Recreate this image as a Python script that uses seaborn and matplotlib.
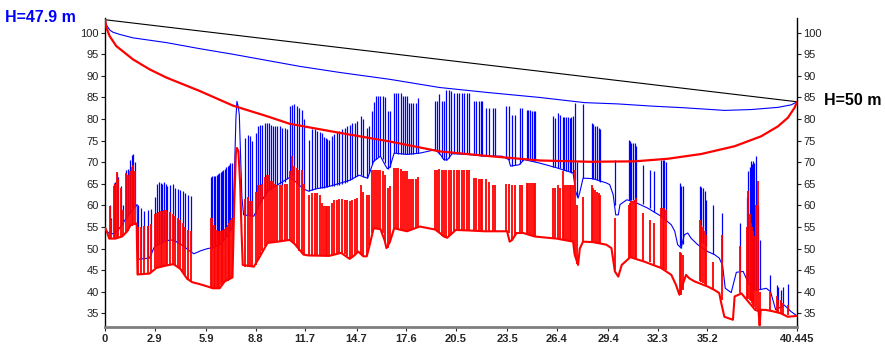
import numpy as np
import pandas as pd
import matplotlib
matplotlib.use("Agg")
import matplotlib.pyplot as plt
import seaborn as sns

# ---------------- data (km, m) ----------------
los_x = [0.0, 40.445]
los_y = [103.0, 84.0]

blue_curve_x = [0.0, 0.08, 0.28, 0.47, 0.86, 1.64, 3.59, 5.53, 7.48, 9.43, 11.38, 13.7, 16.64,
                19.56, 22.48, 25.4, 28.03, 29.98, 31.93, 33.88, 36.22, 37.78, 39.33, 40.12, 40.445]
blue_curve_y = [103.0, 101.8, 100.6, 100.1, 99.6, 98.8, 97.7, 96.3, 95.0, 93.6, 92.2, 90.8, 89.2,
                87.3, 86.1, 85.0, 83.8, 83.5, 83.0, 82.6, 82.0, 82.2, 82.7, 83.3, 84.0]

red_arc_x = [0.0, 0.08, 0.27, 0.66, 1.64, 2.61, 3.59, 5.53, 7.48, 9.43, 10.79, 13.71, 16.64,
             19.56, 22.48, 25.41, 28.33, 30.95, 32.9, 34.85, 36.8, 38.35, 39.33, 39.91, 40.3, 40.445]
red_arc_y = [103.0, 101.2, 99.2, 96.9, 93.8, 91.5, 89.6, 86.5, 83.1, 80.7, 78.9, 76.8, 74.8,
             72.5, 71.4, 70.4, 70.1, 70.2, 70.8, 71.9, 73.7, 76.0, 78.3, 80.3, 82.6, 84.0]

blue_base_x = [0, 0.1, 0.3, 0.6, 0.9, 1.2, 1.5, 1.88, 1.92, 2.6, 2.9, 3.5, 4.0, 4.5, 5.0, 5.2, 5.6,
               6.0, 6.3, 6.8, 7.2, 7.45, 7.55, 7.65, 7.71, 7.78, 7.85, 7.92, 8.0, 8.1, 8.7, 9.0,
               9.5, 10.1, 10.8, 11.0, 11.6, 11.9, 12.3, 13.1, 14.3, 14.85, 15.2, 15.35, 15.7,
               16.1, 16.35, 16.5, 16.65, 16.9, 17.65, 18.4, 19.3, 19.6, 19.8, 20.0, 20.3, 21.2,
               22.2, 23.2, 23.6, 23.7, 24.2, 24.5, 25.4, 26.4, 27.36, 27.5, 27.65, 27.75, 27.94,
               28.5, 29.3, 29.5, 29.7, 29.85, 30.0, 30.1, 30.5, 31.1, 31.7, 32.5, 33.1, 33.3,
               33.47, 33.67, 33.86, 34.06, 34.25, 34.64, 35.23, 35.62, 35.9, 36.1, 36.25, 36.6,
               36.9, 37.3, 37.6, 38.0, 38.3, 38.65, 38.9, 39.2, 39.7, 40.1, 40.445]
blue_base_y = [55.1, 54.0, 53.4, 53.5, 55.0, 56.8, 58.5, 60.2, 47.5, 47.8, 50.5, 51.8, 52.0, 50.8,
               49.3, 48.8, 49.5, 50.0, 50.2, 51.2, 53.2, 55.0, 65.0, 80.0, 84.1, 83.0, 81.0, 72.0,
               62.0, 57.8, 57.5, 60.0, 63.3, 64.8, 66.5, 66.0, 63.8, 63.3, 63.8, 64.4, 65.8, 67.0,
               66.5, 66.3, 70.2, 71.4, 69.5, 68.5, 68.8, 72.1, 71.8, 72.1, 72.9, 71.8, 70.6, 70.5,
               72.0, 71.8, 71.4, 71.4, 70.6, 69.1, 69.4, 70.6, 69.8, 68.7, 67.5, 63.3, 61.7, 63.0,
               66.3, 66.2, 65.2, 64.8, 62.5, 57.8, 57.8, 60.2, 61.3, 60.5, 59.4, 57.5, 55.5, 54.0,
               50.9, 50.1, 53.2, 53.6, 52.4, 50.9, 49.3, 48.6, 47.8, 46.0, 40.8, 39.8, 44.5, 44.7,
               42.0, 40.4, 40.5, 40.8, 40.0, 35.8, 36.9, 35.4, 34.4]

red_base_x = [0, 0.1, 0.25, 0.6, 1.0, 1.3, 1.5, 1.85, 1.9, 2.6, 3.0, 3.5, 4.0, 4.4, 4.8, 5.1, 5.5,
              6.0, 6.3, 6.7, 7.0, 7.45, 7.55, 7.65, 7.71, 7.8, 7.9, 7.98, 8.05, 8.7, 9.0, 9.5,
              10.1, 10.8, 11.1, 11.6, 11.9, 13.1, 13.8, 14.3, 14.6, 14.8, 15.1, 15.3, 15.45,
              15.7, 16.1, 16.35, 16.45, 16.65, 16.9, 17.65, 18.4, 19.3, 19.6, 19.8, 20.0, 20.5,
              21.2, 22.2, 23.5, 23.65, 23.8, 24.05, 24.45, 25.1, 25.6, 26.4, 27.36, 27.45, 27.65,
              27.75, 27.94, 28.5, 29.3, 29.6, 29.8, 30.0, 30.2, 30.7, 31.5, 32.5, 33.1, 33.37,
              33.57, 33.76, 33.96, 34.15, 34.45, 35.23, 35.62, 35.9, 36.0, 36.2, 36.7, 36.8,
              37.2, 37.6, 38.0, 38.2, 38.26, 38.32, 38.6, 39.0, 39.5, 39.9, 40.445]
red_base_y = [54.8, 54.0, 52.3, 52.3, 52.8, 54.0, 55.5, 55.8, 44.0, 44.2, 45.5, 46.0, 46.4, 45.3,
              43.0, 42.2, 41.8, 41.2, 40.8, 40.8, 42.4, 43.3, 60.0, 72.0, 73.3, 72.5, 64.8, 54.0,
              46.2, 45.8, 47.8, 51.3, 51.6, 52.0, 51.0, 48.6, 48.4, 48.3, 49.0, 47.6, 48.5, 49.3,
              48.2, 48.2, 50.5, 54.7, 54.5, 51.8, 50.1, 51.5, 54.7, 54.0, 55.1, 54.4, 53.5, 52.8,
              52.5, 54.3, 54.2, 54.0, 54.0, 51.6, 52.0, 53.6, 53.6, 52.8, 52.6, 52.3, 51.6, 48.6,
              46.2, 50.0, 51.6, 51.5, 50.9, 50.1, 44.7, 43.5, 46.2, 48.0, 47.0, 45.5, 43.9, 41.6,
              39.3, 41.6, 43.9, 43.1, 42.4, 41.2, 40.4, 39.7, 37.7, 34.2, 33.5, 38.9, 39.6, 37.7,
              35.8, 35.5, 32.2, 35.8, 35.8, 35.5, 35.0, 34.2, 34.4]

# obstacle spikes: position, blue top/bottom, red top/bottom
spike_x = [0.27, 0.35, 0.50, 0.58, 0.70, 0.78, 0.95, 1.05, 1.20, 1.32, 1.45, 1.55, 1.65, 1.75,
           1.95, 2.10, 2.30, 2.50, 2.70, 2.95, 3.05, 3.15, 3.25, 3.35, 3.45, 3.55, 3.65, 3.80,
           3.95, 4.10, 4.25, 4.40, 4.55, 4.70, 4.85, 5.00,
           6.20, 6.28, 6.36, 6.44, 6.52, 6.60, 6.68, 6.76, 6.84, 6.92, 7.00, 7.08, 7.16, 7.24,
           7.32, 7.40,
           8.20, 8.35, 8.50, 8.62, 8.80, 8.95, 9.07, 9.20, 9.33, 9.45, 9.57, 9.70, 9.83, 9.95,
           10.08, 10.20, 10.35, 10.50, 10.65, 10.80, 10.92, 11.05, 11.20, 11.35, 11.50, 11.65,
           11.93, 12.10, 12.25, 12.40, 12.55, 12.70, 12.80, 12.90, 13.00, 13.10, 13.25, 13.40,
           13.55, 13.70, 13.85, 14.00, 14.15, 14.30, 14.45, 14.60, 14.75, 14.95, 15.10,
           15.30, 15.45, 15.60, 15.72, 15.85, 15.98, 16.10, 16.22, 16.35, 16.55, 16.65, 16.90,
           17.02, 17.15, 17.28, 17.40, 17.52, 17.65, 17.78, 17.90, 18.02, 18.15, 18.30,
           19.30, 19.42, 19.55, 19.68, 19.80, 19.95, 20.10, 20.25, 20.40,
           20.55, 20.70, 20.85, 21.00, 21.15, 21.30, 21.55, 21.70, 21.85, 21.95, 22.05, 22.25,
           22.45, 22.65, 22.80, 23.45, 23.60, 23.80, 23.95, 24.25, 24.40, 24.65, 24.75, 24.85,
           24.95, 25.05, 25.15,
           26.19, 26.29, 26.48, 26.58, 26.77, 26.85, 26.95, 27.05, 27.15, 27.25, 27.35, 27.46,
           27.60, 27.94, 28.45, 28.55, 28.65, 28.75, 28.85, 28.95, 29.80, 30.60, 30.68, 30.76,
           30.85, 30.95, 31.05, 31.44, 31.83, 32.10, 32.50, 32.60, 32.70, 32.80, 33.58, 33.68,
           33.78, 34.75, 34.85, 34.95, 35.05, 35.14, 35.53,
           36.05, 37.09, 37.55, 37.60, 37.67, 37.74, 37.80, 37.87, 37.95, 38.06, 38.18, 38.26,
           38.84, 39.25, 39.35, 39.50, 39.62, 39.90]
blue_top = [60.2, 57.0, 65.2, 65.5, 67.5, 66.5, 64.6, 60.0, 68.3, 68.4, 70.6, 71.7, 72.0, 70.0,
            60.0, 59.5, 58.8, 59.0, 59.2, 62.0, 65.0, 65.4, 65.2, 65.0, 65.3, 65.0, 64.5, 64.8,
            65.0, 64.0, 63.8, 63.5, 63.3, 62.8, 62.5, 62.2,
            66.5, 66.7, 66.8, 66.9, 67.0, 67.2, 67.5, 67.8, 68.0, 68.2, 68.5, 68.8, 69.1, 69.4,
            69.8, 69.8,
            75.6, 76.4, 76.0, 74.9, 76.8, 78.5, 78.7, 78.7, 79.0, 79.1, 79.1, 78.7, 78.5, 78.3,
            78.3, 78.3, 78.0, 78.0, 77.8, 83.0, 83.3, 83.4, 83.0, 82.5, 82.2, 80.0,
            75.2, 77.6, 77.6, 77.3, 77.0, 76.8, 75.8, 75.5, 75.4, 75.2, 76.0, 76.5,
            77.0, 77.2, 77.6, 78.0, 78.3, 78.6, 79.1, 79.1, 79.5, 80.7, 80.0,
            78.0, 78.5, 81.8, 84.0, 85.3, 85.3, 85.3, 85.3, 85.0, 81.8, 81.8, 86.1,
            86.1, 86.1, 86.1, 85.3, 85.3, 85.3, 83.7, 83.7, 83.7, 83.7, 84.9,
            84.1, 84.1, 85.8, 84.1, 84.1, 86.8, 86.8, 86.5, 86.1,
            86.1, 86.1, 86.1, 86.1, 86.1, 86.1, 84.1, 84.1, 84.1, 84.1, 84.1, 82.6,
            82.6, 82.6, 82.6, 83.0, 83.0, 81.0, 81.0, 82.6, 82.6, 82.2, 82.2, 82.0,
            81.8, 81.8, 81.8,
            80.7, 80.3, 81.4, 81.0, 80.5, 80.5, 80.5, 80.5, 80.3, 80.5, 80.7, 83.7,
            70.0, 83.4, 79.1, 78.8, 78.5, 78.3, 78.0, 77.6, 70.6, 75.2, 75.0, 74.5,
            74.4, 74.4, 73.7, 69.4, 68.3, 67.9, 70.6, 70.6, 70.4, 70.0, 65.2, 64.4,
            64.4, 64.4, 64.2, 64.0, 63.3, 61.3, 60.2,
            58.2, 55.9, 62.0, 67.9, 69.0, 70.2, 69.5, 70.2, 69.8, 71.4, 60.0, 52.0,
            43.9, 41.6, 41.0, 40.5, 41.2, 41.9]
blue_bot = [53.5, 53.3, 53.4, 53.4, 53.8, 54.2, 55.2, 55.8, 56.8, 57.5, 58.3, 58.8, 59.3, 59.8,
            47.5, 47.5, 47.6, 47.8, 48.5, 50.5, 50.8, 51.0, 51.2, 51.4, 51.6, 51.8, 52.0, 52.0,
            51.8, 51.5, 51.2, 51.0, 50.6, 50.2, 49.8, 49.3,
            50.2, 50.2, 50.3, 50.4, 50.5, 50.7, 50.9, 51.2, 51.6, 52.0, 52.4, 52.8, 53.2, 53.6,
            54.0, 54.5,
            57.8, 57.7, 57.6, 57.5, 58.0, 59.5, 60.5, 61.5, 62.3, 63.0, 63.5, 63.8, 64.2, 64.5,
            64.8, 65.0, 64.8, 65.5, 66.0, 66.5, 66.8, 66.0, 65.5, 65.0, 64.5, 63.5,
            63.3, 63.6, 63.8, 64.0, 64.0, 64.0, 64.1, 64.2, 64.3, 64.4, 64.5, 64.6,
            64.7, 64.8, 65.0, 65.2, 65.5, 65.8, 66.2, 66.5, 66.8, 67.0, 66.5,
            66.3, 67.5, 69.5, 70.2, 70.8, 71.2, 71.4, 70.8, 69.8, 68.5, 69.0, 72.1,
            72.1, 72.0, 72.0, 71.9, 71.8, 71.8, 71.9, 72.0, 72.0, 72.1, 72.1,
            72.9, 72.6, 72.0, 71.0, 70.6, 70.5, 71.0, 71.8, 72.0,
            72.0, 72.0, 71.9, 71.9, 71.8, 71.8, 71.7, 71.6, 71.6, 71.5, 71.5, 71.4,
            71.4, 71.4, 71.4, 71.0, 70.6, 69.2, 69.3, 69.6, 70.3, 70.5, 70.5, 70.4,
            70.4, 70.3, 70.3,
            68.9, 68.8, 68.7, 68.6, 68.3, 68.2, 68.0, 67.9, 67.8, 67.6, 67.5, 66.0,
            62.0, 66.3, 66.2, 66.1, 66.0, 65.8, 65.6, 65.4, 60.0, 61.3, 61.3, 61.3,
            61.2, 61.1, 61.0, 60.3, 59.4, 58.5, 57.5, 57.2, 57.0, 56.5, 50.5, 50.1,
            51.0, 51.6, 51.4, 51.2, 51.0, 50.5, 48.8,
            47.0, 44.7, 43.0, 42.5, 42.3, 42.0, 41.5, 41.0, 40.6, 40.5, 40.6, 40.7,
            40.0, 36.5, 36.5, 36.7, 36.9, 35.6]
red_top = [59.8, 56.5, 64.5, 65.0, 67.7, 66.0, 64.0, 59.0, 67.5, 67.0, 68.0, 69.0, 69.3, 68.0,
           55.0, 55.0, 55.2, 55.3, 55.6, 58.0, 58.2, 58.4, 58.6, 58.8, 59.0, 59.0, 58.8, 58.5,
           58.0, 57.5, 57.0, 56.6, 56.0, 55.0, 54.4, 54.0,
           57.1, 57.0, 55.5, 54.5, 54.2, 54.0, 54.0, 54.0, 54.1, 54.2, 54.5, 55.0, 55.5, 56.0,
           56.5, 57.1,
           61.5, 62.0, 61.0, 60.9, 63.0, 64.8, 64.8, 65.0, 66.5, 67.1, 67.0, 65.6, 65.6, 65.0,
           64.8, 64.8, 64.8, 65.0, 65.0, 67.9, 71.4, 69.1, 68.7, 68.3, 68.3, 65.0,
           62.5, 62.8, 62.9, 62.9, 62.5, 60.5, 59.8, 59.8, 59.8, 59.8, 60.5, 61.3,
           61.3, 61.5, 61.5, 61.3, 61.3, 61.0, 61.3, 61.5, 61.8, 64.8, 63.0,
           62.5, 62.5, 68.3, 68.3, 68.3, 68.3, 68.3, 68.0, 67.0, 64.0, 64.5, 68.7,
           68.7, 68.7, 68.5, 68.0, 68.0, 67.9, 66.0, 66.0, 66.0, 66.0, 66.5,
           68.3, 68.3, 68.5, 68.3, 68.3, 68.3, 68.3, 68.3, 68.3,
           68.3, 68.3, 68.3, 68.3, 68.3, 68.3, 66.3, 66.3, 66.2, 66.2, 66.0, 66.0,
           65.5, 64.8, 64.8, 65.0, 65.0, 64.8, 64.8, 64.8, 64.8, 65.2, 65.2, 65.2,
           65.2, 65.2, 65.2,
           64.0, 64.0, 64.8, 64.0, 67.9, 64.8, 64.8, 64.8, 64.8, 64.8, 64.8, 68.3,
           60.0, 62.0, 64.8, 64.0, 63.5, 63.0, 62.8, 62.5, 57.1, 60.2, 60.5, 61.0,
           61.0, 61.3, 61.7, 58.2, 56.7, 55.9, 59.4, 59.4, 59.4, 59.0, 49.3, 49.0,
           48.5, 56.7, 55.5, 55.0, 54.0, 53.2, 47.0,
           53.2, 50.5, 55.0, 63.3, 58.0, 56.0, 55.0, 54.0, 53.0, 60.0, 65.6, 40.0,
           40.0, 39.0, 38.0, 38.0, 37.5, 37.0]
red_bot = [52.3, 52.2, 52.2, 52.3, 52.5, 52.5, 52.6, 52.8, 53.5, 54.0, 55.0, 55.3, 55.5, 55.5,
           43.8, 43.8, 44.0, 44.2, 44.5, 45.5, 45.6, 45.7, 45.8, 45.9, 46.0, 46.1, 46.2, 46.3,
           46.4, 46.2, 45.8, 45.3, 44.6, 43.8, 43.0, 42.4,
           41.0, 40.8, 40.7, 40.6, 40.7, 40.9, 41.2, 41.6, 42.0, 42.3, 42.4, 42.5, 42.6, 42.8,
           43.0, 43.3,
           45.8, 45.8, 45.8, 45.8, 46.2, 47.3, 48.5, 49.5, 50.5, 51.2, 51.4, 51.5, 51.5, 51.5,
           51.5, 51.6, 51.6, 51.7, 51.8, 52.0, 51.8, 51.0, 50.3, 49.5, 49.0, 48.6,
           48.4, 48.4, 48.3, 48.3, 48.2, 48.2, 48.2, 48.2, 48.2, 48.3, 48.5, 48.7,
           48.9, 49.0, 49.0, 48.8, 48.3, 47.6, 47.8, 48.5, 49.3, 48.8, 48.2,
           48.5, 50.5, 53.5, 54.7, 54.6, 54.5, 54.5, 53.5, 51.8, 50.2, 51.5, 54.7,
           54.6, 54.5, 54.3, 54.2, 54.1, 54.0, 54.2, 54.4, 54.6, 54.8, 55.0,
           54.4, 54.0, 53.5, 53.0, 52.8, 52.6, 53.0, 53.2, 54.0,
           54.4, 54.4, 54.3, 54.3, 54.2, 54.2, 54.2, 54.1, 54.1, 54.1, 54.1, 54.0,
           54.0, 54.0, 54.0, 54.0, 53.5, 52.0, 52.8, 53.6, 53.6, 53.4, 53.3, 53.2,
           53.1, 53.0, 52.9,
           52.4, 52.4, 52.3, 52.2, 52.1, 52.0, 52.0, 51.9, 51.8, 51.7, 51.6, 48.6,
           46.5, 51.6, 51.5, 51.4, 51.4, 51.3, 51.2, 51.1, 45.0, 47.8, 47.9, 48.0,
           48.0, 47.9, 47.8, 47.2, 46.8, 46.3, 45.5, 45.4, 45.2, 45.0, 39.5, 39.3,
           40.5, 42.5, 42.3, 42.1, 41.9, 41.6, 40.6,
           38.0, 39.6, 38.5, 38.3, 38.0, 37.8, 37.5, 37.0, 36.5, 36.0, 35.5, 32.2,
           35.8, 35.2, 35.0, 35.0, 34.8, 34.5]

x_tick_labels = ["0", "2.9", "5.9", "8.8", "11.7", "14.7", "17.6", "20.5", "23.5", "26.4",
                 "29.4", "32.3", "35.2", "40.445"]
y_ticks = [35, 40, 45, 50, 55, 60, 65, 70, 75, 80, 85, 90, 95, 100]
left_label = "H=47.9 m"
right_label = "H=50 m"

# ---------------- style ----------------
sns.set_style("white")
plt.rcParams["font.family"] = ["Liberation Sans", "DejaVu Sans"]

BLUE = "#0000ff"
RED = "#ff0000"

fig = plt.figure(figsize=(8.85, 3.45), dpi=100)
ax = fig.add_axes([105 / 885, 1 - 326.7 / 345, (797 - 105) / 885, (326.7 - 18) / 345])

# blue obstacle profile
ax.vlines(spike_x, blue_bot, blue_top, colors=BLUE, linewidth=0.9, zorder=2)
sns.lineplot(x=blue_base_x, y=blue_base_y, sort=False, estimator=None, color=BLUE,
             linewidth=0.8, ax=ax, zorder=2)
# red obstacle profile
ax.vlines(spike_x, red_bot, red_top, colors=RED, linewidth=1.3, zorder=3)
sns.lineplot(x=red_base_x, y=red_base_y, sort=False, estimator=None, color=RED,
             linewidth=1.5, ax=ax, zorder=3)
# reference curves
sns.lineplot(x=los_x, y=los_y, sort=False, estimator=None, color="black", linewidth=0.8,
             ax=ax, zorder=4)
sns.lineplot(x=blue_curve_x, y=blue_curve_y, sort=False, estimator=None, color=BLUE,
             linewidth=0.8, ax=ax, zorder=4)
sns.lineplot(x=red_arc_x, y=red_arc_y, sort=False, estimator=None, color=RED,
             linewidth=1.6, ax=ax, zorder=5)

ax.set_xlim(0, 40.445)
ax.set_ylim(31.9, 103.4)
ax.set_xticks([float(v) for v in x_tick_labels])
ax.set_xticklabels(x_tick_labels, fontsize=8, fontweight="bold")
ax.set_yticks(y_ticks)
ax.set_yticklabels([str(v) for v in y_ticks], fontsize=8)
ax.tick_params(axis="y", which="both", left=True, right=True, labelleft=True, labelright=True,
               length=3, width=0.8, direction="out", pad=1.5, colors="#222222")
ax.tick_params(axis="x", bottom=True, length=3, width=0.8, direction="out", pad=2)
ax.set_xlabel("")
ax.set_ylabel("")
ax.spines["top"].set_visible(False)
ax.spines["left"].set_color("black")
ax.spines["left"].set_linewidth(1.0)
ax.spines["right"].set_color("black")
ax.spines["right"].set_linewidth(1.0)
ax.spines["bottom"].set_color("#7f7f7f")
ax.spines["bottom"].set_linewidth(2.0)

fig.text(5 / 885, 1 - 17 / 345, left_label, color=BLUE, fontsize=11.5, fontweight="bold",
         ha="left", va="center")
fig.text(824 / 885, 1 - 100.7 / 345, right_label, color="black", fontsize=11.5,
         fontweight="bold", ha="left", va="center")

fig.savefig("out.png", dpi=100)
